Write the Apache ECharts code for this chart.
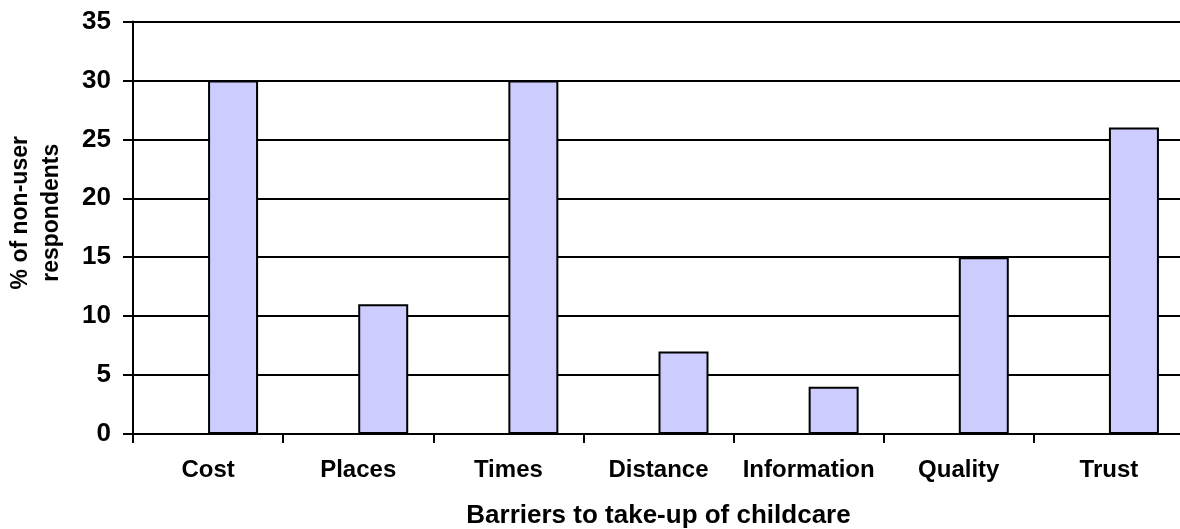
<!DOCTYPE html>
<html>
<head>
<meta charset="utf-8">
<script src="https://cdn.jsdelivr.net/npm/echarts@6/dist/echarts.min.js"></script>
<style>
  html, body { margin: 0; padding: 0; background: #ffffff; }
  #chart { width: 1180px; height: 529px; }
</style>
</head>
<body>
<div id="chart"></div>
<script>
const categories = ['Cost', 'Places', 'Times', 'Distance', 'Information', 'Quality', 'Trust'];
const respondentShares = [30, 11, 30, 7, 4, 15, 26];
const emptyOffsetSeries = ['-', '-', '-', '-', '-', '-', '-'];
const yTicks = { min: 0, max: 35, interval: 5 };
const xTitle = 'Barriers to take-up of childcare';
const yTitle = '% of non-user\nrespondents';

const FONT = '"Liberation Sans", Arial, Helvetica, sans-serif';
const chart = echarts.init(document.getElementById('chart'), null, { renderer: 'canvas' });

chart.setOption({
  animation: false,
  backgroundColor: '#ffffff',
  grid: { left: 133, right: -4, top: 21.5, bottom: 95, containLabel: false, outerBoundsMode: 'none' },
  xAxis: {
    type: 'category',
    data: categories,
    boundaryGap: true,
    name: xTitle,
    nameLocation: 'middle',
    nameGap: 69,
    nameTextStyle: { fontFamily: FONT, fontWeight: 'bold', fontSize: 26, color: '#000' },
    axisLine: { show: true, lineStyle: { color: '#000', width: 2 } },
    axisTick: { show: true, alignWithLabel: false, length: 9, lineStyle: { color: '#000', width: 2 } },
    axisLabel: { interval: 0, margin: 24, fontFamily: FONT, fontWeight: 'bold', fontSize: 24, color: '#000' },
    splitLine: { show: false }
  },
  yAxis: {
    type: 'value',
    min: yTicks.min,
    max: yTicks.max,
    interval: yTicks.interval,
    name: yTitle,
    nameLocation: 'middle',
    nameRotate: 90,
    nameGap: 66,
    nameTextStyle: { fontFamily: FONT, fontWeight: 'bold', fontSize: 23, color: '#000', lineHeight: 31, padding: [0, 0, 0, 30] },
    axisLine: { show: true, lineStyle: { color: '#000', width: 2 } },
    axisTick: { show: true, inside: false, length: 10, lineStyle: { color: '#000', width: 2 } },
    axisLabel: { margin: 22, fontFamily: FONT, fontWeight: 'bold', fontSize: 26, color: '#000' },
    splitLine: { show: true, lineStyle: { color: '#000', width: 2 } }
  },
  series: [
    {
      type: 'bar',
      data: emptyOffsetSeries,
      barWidth: 50,
      barGap: '0%',
      itemStyle: { color: '#ccccff', borderColor: '#000', borderWidth: 2 }
    },
    {
      type: 'bar',
      data: respondentShares,
      barWidth: 50,
      barGap: '0%',
      itemStyle: { color: '#ccccff', borderColor: '#000', borderWidth: 2 }
    }
  ]
});
</script>
</body>
</html>
